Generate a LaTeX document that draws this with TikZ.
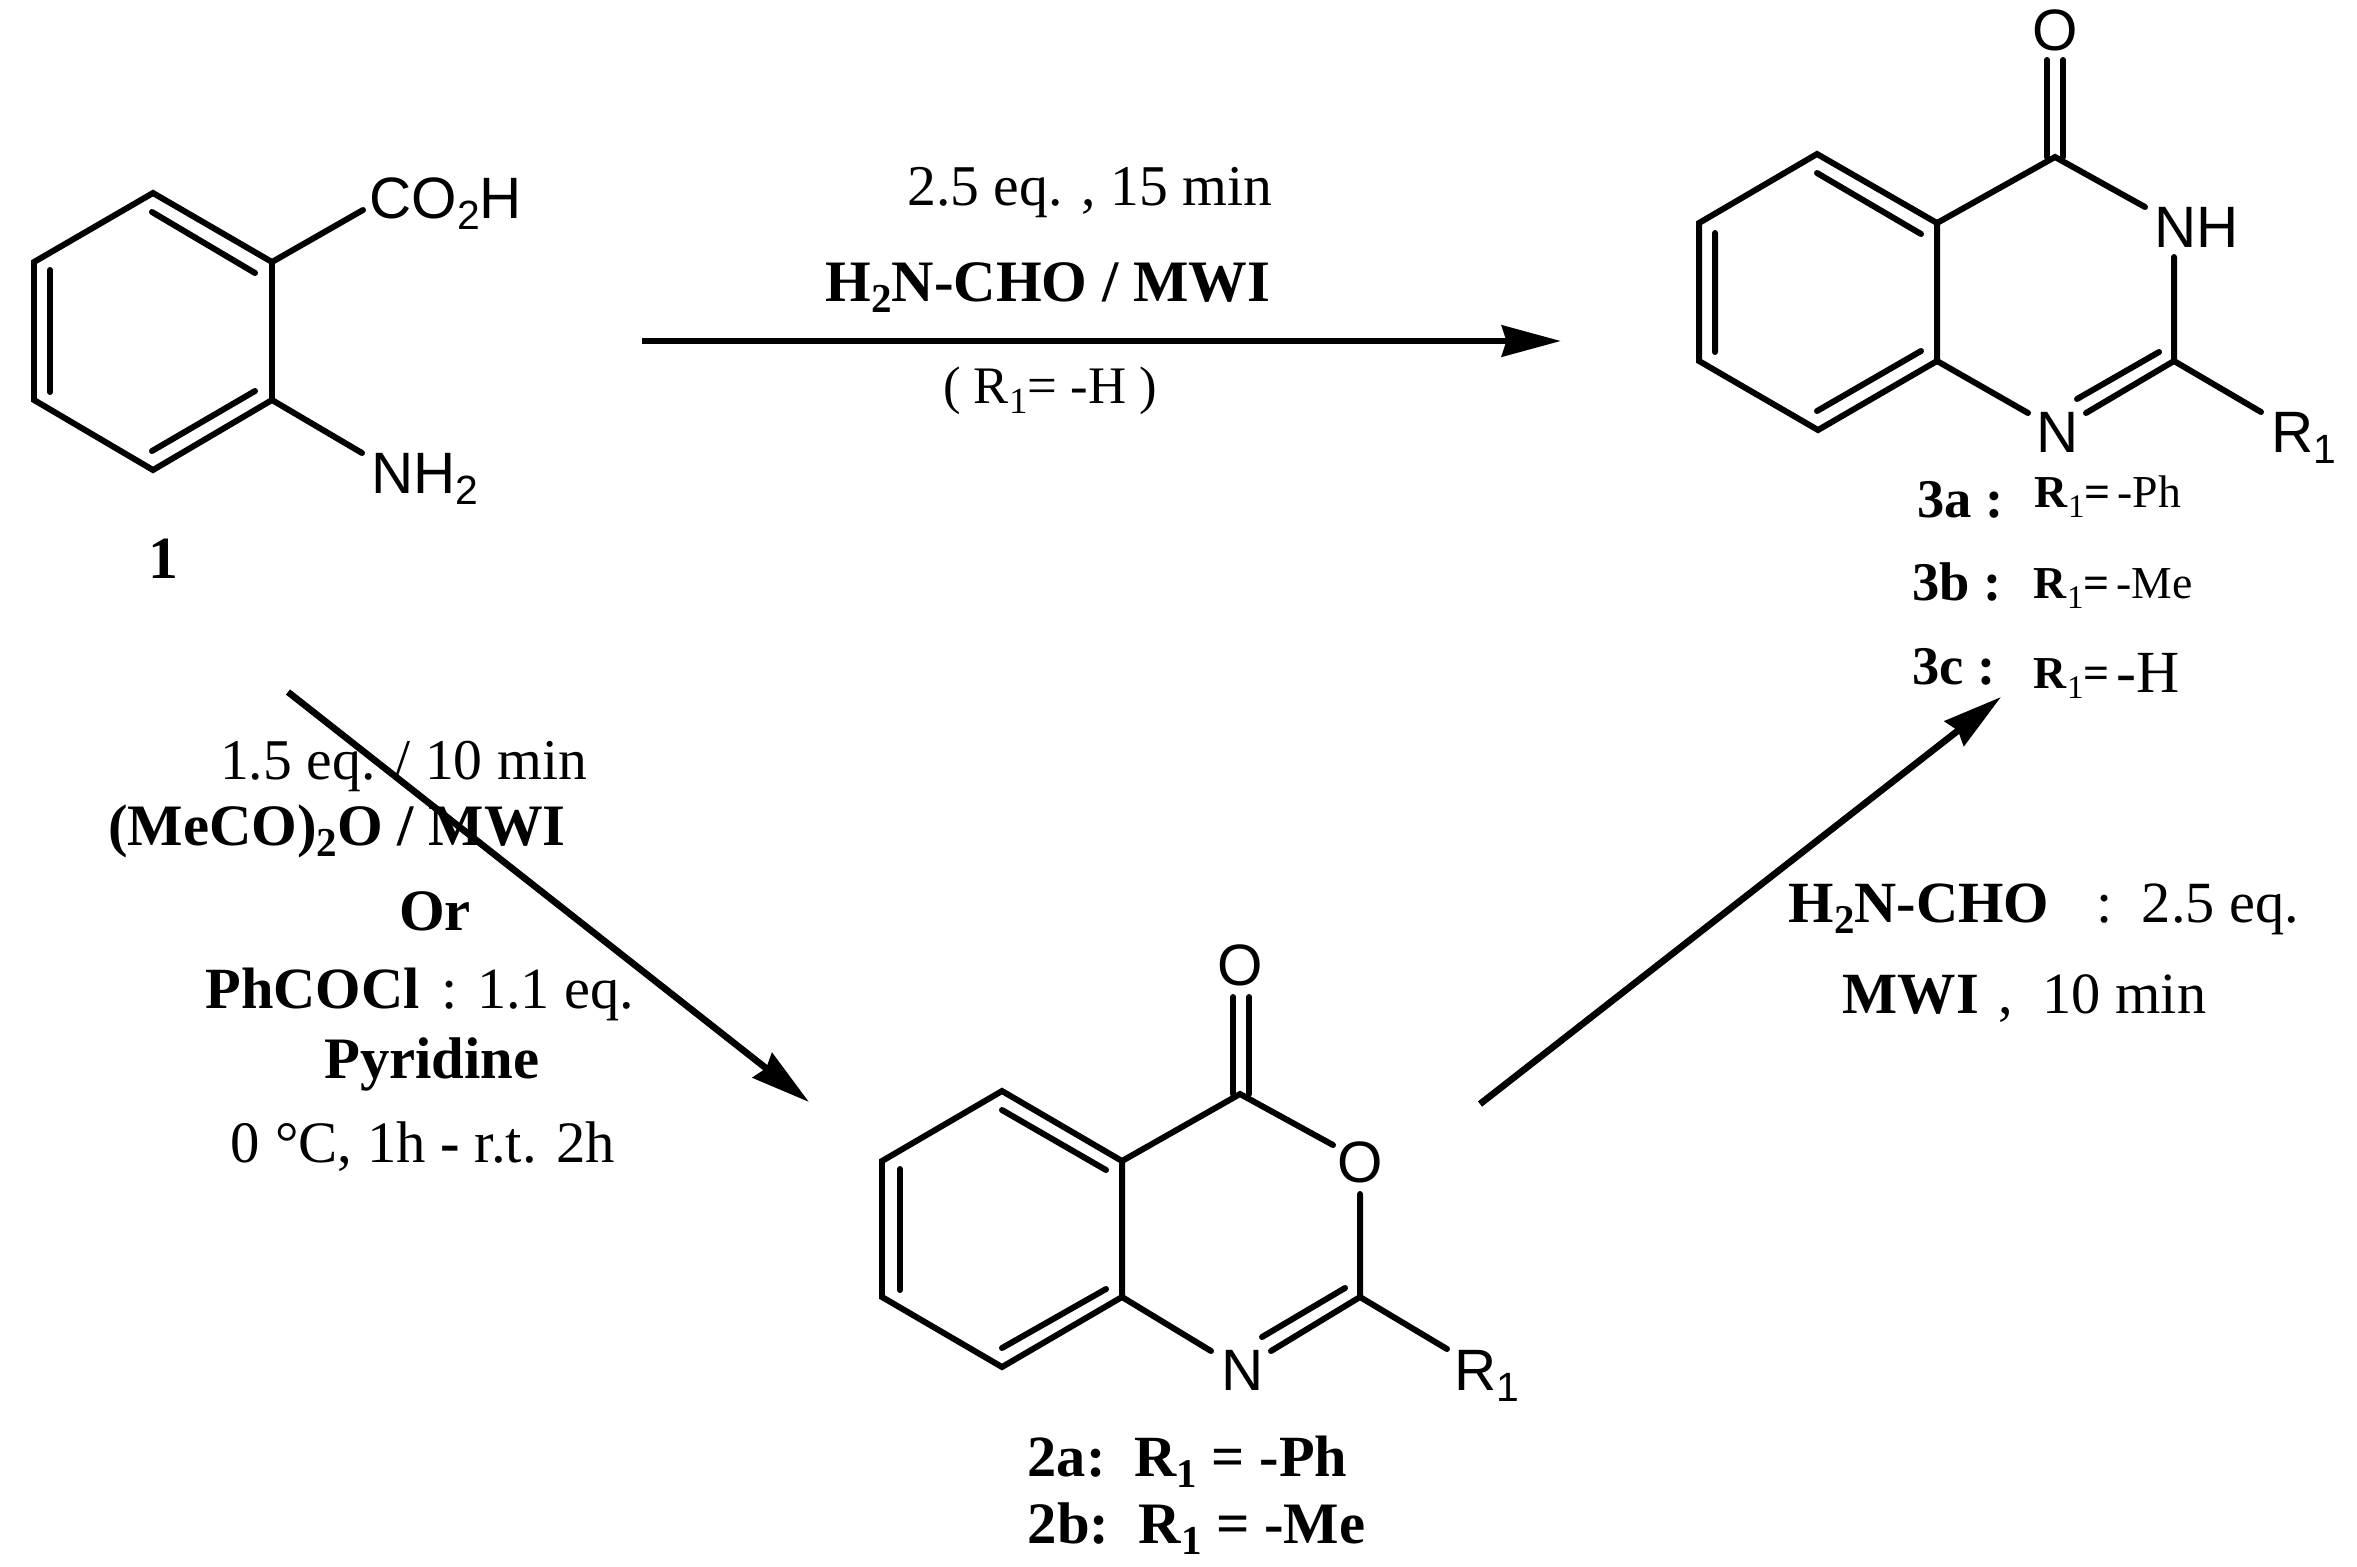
\documentclass[tikz,border=0pt]{standalone}
\usepackage{fontspec}
\setmainfont{Liberation Serif}
\setsansfont{Liberation Sans}
\usetikzlibrary{arrows.meta}
\newcommand{\lowsub}[1]{\raisebox{-0.2em}{\scalebox{0.7}{#1}}}
\newcommand{\rone}{\textbf{R}\raisebox{-0.22em}{\scalebox{0.72}{1}}\textbf{=}\hspace{0.15em}}
\tikzset{
  bond/.style={line width=1.7pt,line cap=round,line join=miter},
  reaction/.style={line width=1.9pt,-{Stealth[length=16.8pt,width=8.8pt,inset=1.3pt]}},
  atom/.style={inner sep=0pt,anchor=base west,font=\fontsize{16.6}{20}\selectfont\sffamily},
  reagent/.style={inner sep=0pt,anchor=base,font=\fontsize{16.4}{20}\selectfont},
  reagentb/.style={inner sep=0pt,anchor=base,font=\fontsize{16.7}{20}\selectfont\bfseries},
  compound/.style={inner sep=0pt,anchor=base west,font=\fontsize{15.5}{20}\selectfont\bfseries},
  rgroup/.style={inner sep=0pt,anchor=base west,font=\fontsize{13}{16}\selectfont}
}
\begin{document}
\begin{tikzpicture}[x=0.01cm,y=-0.01cm]
\path[use as bounding box,fill=white] (0,0) rectangle (2357,1566);

% anthranilic acid
\coordinate (a1) at (153,193);
\coordinate (a2) at (272,262);
\coordinate (a3) at (272,400);
\coordinate (a4) at (153,470);
\coordinate (a5) at (34,400);
\coordinate (a6) at (34,262);
\coordinate (a1i) at (152,212);
\coordinate (a2i) at (255,273);
\coordinate (a3i) at (255,391);
\coordinate (a4i) at (152,451);
\coordinate (a5i) at (50,392);
\coordinate (a6i) at (50,270);
\coordinate (acooh) at (363,210);
\coordinate (anh) at (362,453);
\draw[bond] (a1)--(a2)--(a3)--(a4)--(a5)--(a6)--cycle;
\draw[bond] (a1i)--(a2i) (a3i)--(a4i) (a5i)--(a6i);
\draw[bond] (a2)--(acooh) (a3)--(anh);
\node[atom] (cooh) at (369,218) {CO\lowsub{2}H};
\node[atom] (nh2) at (370.5,493) {NH\lowsub{2}};
\node[compound,anchor=base] (cpd1) at (163,578) {\fontsize{17}{20}\selectfont 1};

% quinazolinone
\coordinate (q1) at (1817,154);
\coordinate (q2) at (1937,223);
\coordinate (q3) at (1937,361);
\coordinate (q4) at (1818,430);
\coordinate (q5) at (1699,361);
\coordinate (q6) at (1699,223);
\coordinate (q1i) at (1817,173);
\coordinate (q2i) at (1921,234);
\coordinate (q3i) at (1921,351);
\coordinate (q4i) at (1817,411);
\coordinate (q5i) at (1715,352);
\coordinate (q6i) at (1715,233);
\coordinate (qc) at (2055,157);
\coordinate (qo1) at (2047,60);
\coordinate (qo2) at (2063,60);
\coordinate (qc1) at (2047,157);
\coordinate (qc2) at (2063,157);
\coordinate (qnh) at (2145,207);
\coordinate (qd) at (2174,257);
\coordinate (qe) at (2174,361);
\coordinate (qr) at (2261,412);
\coordinate (qn1) at (2086,413);
\coordinate (qn2) at (2077,399);
\coordinate (qei) at (2159,352);
\coordinate (qn3) at (2028,413);
\draw[bond] (q1)--(q2)--(q3)--(q4)--(q5)--(q6)--cycle;
\draw[bond] (q1i)--(q2i) (q3i)--(q4i) (q5i)--(q6i);
\draw[bond] (q2)--(qc)--(qnh) (qd)--(qe)--(qn1) (qei)--(qn2) (qe)--(qr) (q3)--(qn3);
\draw[bond] (qo1)--(qc1) (qo2)--(qc2);
\node[atom,anchor=base] (qoxy) at (2055,50) {O};
\node[atom] (qnhl) at (2153.5,247) {NH};
\node[atom] (qnl) at (2035.5,452) {N};
\node[atom] (qrl) at (2271,452) {R\lowsub{1}};
\node[compound] (c3a) at (1917,517) {3a :};
\node[rgroup] (r3a) at (2034,507) {\rone-Ph};
\node[compound] (c3b) at (1912,600) {3b :};
\node[rgroup] (r3b) at (2033,598) {\rone-Me};
\node[compound] (c3c) at (1912,684) {3c :};
\node[rgroup] (r3c) at (2033,688) {\rone\raisebox{-1.4pt}{\fontsize{17}{18}\selectfont -H}};

% benzoxazinone
\coordinate (b1) at (1002,1091);
\coordinate (b2) at (1122,1161);
\coordinate (b3) at (1122,1297);
\coordinate (b4) at (1002,1367);
\coordinate (b5) at (882,1297);
\coordinate (b6) at (882,1161);
\coordinate (b1i) at (1002,1110);
\coordinate (b2i) at (1106,1170);
\coordinate (b3i) at (1106,1289);
\coordinate (b4i) at (1002,1348);
\coordinate (b5i) at (900,1290);
\coordinate (b6i) at (900,1169);
\coordinate (bc) at (1240,1094);
\coordinate (bo1) at (1233,997);
\coordinate (bo2) at (1249,997);
\coordinate (bc1) at (1233,1094);
\coordinate (bc2) at (1249,1094);
\coordinate (bor) at (1333,1145);
\coordinate (bd) at (1360,1194);
\coordinate (be) at (1360,1297);
\coordinate (br) at (1447,1349);
\coordinate (bn1) at (1271,1351);
\coordinate (bn2) at (1262,1337);
\coordinate (bei) at (1345,1288);
\coordinate (bn3) at (1211,1351);
\draw[bond] (b1)--(b2)--(b3)--(b4)--(b5)--(b6)--cycle;
\draw[bond] (b1i)--(b2i) (b3i)--(b4i) (b5i)--(b6i);
\draw[bond] (b2)--(bc)--(bor) (bd)--(be)--(bn1) (bei)--(bn2) (be)--(br) (b3)--(bn3);
\draw[bond] (bo1)--(bc1) (bo2)--(bc2);
\node[atom,anchor=base] (boxy) at (1240,985) {O};
\node[atom,anchor=base] (boxr) at (1360,1182) {O};
\node[atom] (bnl) at (1221,1390) {N};
\node[atom] (brl) at (1454,1390) {R\lowsub{1}};
\node[compound] (c2a) at (1027,1476) {\fontsize{16.6}{20}\selectfont 2a:\ \ R\lowsub{1} = -Ph};
\node[compound] (c2b) at (1027,1543) {\fontsize{16.7}{20}\selectfont 2b:\ \ R\lowsub{1} = -Me};

% top arrow
\coordinate (top1) at (642,341);
\coordinate (top2) at (1561,341);
\draw[reaction] (top1)--(top2);
\node[reagent] (t1) at (1090,205) {2.5 eq. , 15 min};
\node[reagentb] (t2) at (1048,301) {H\lowsub{2}N-CHO / MWI};
\node[reagent,font=\fontsize{15}{16}\selectfont] (t3) at (1050,403) {( R\lowsub{1}= -H )};

% left arrow
\coordinate (left1) at (288,692);
\coordinate (left2) at (809,1102);
\draw[reaction] (left1)--(left2);
\node[reagent] (l1) at (403.5,779) {1.5 eq. / 10 min};
\node[reagentb] (l2) at (337,845) {(MeCO)\lowsub{2}O / MWI};
\node[reagentb] (l3) at (435,930) {Or};
\node[reagent,font=\fontsize{16.6}{20}\selectfont] (l4) at (420,1008) {\textbf{PhCOCl}\hspace{2pt} : 1.1 eq.};
\node[reagentb] (l5) at (432,1078) {Pyridine};
\node[reagent,font=\fontsize{16.7}{20}\selectfont] (l6) at (423,1162) {0 °C, 1h \textbf{-} r.t. 2h};

% right arrow
\coordinate (right1) at (1480,1104);
\coordinate (right2) at (2001,697);
\draw[reaction] (right1)--(right2);
\node[reagent,anchor=base west,font=\fontsize{16.6}{20}\selectfont] (r1) at (1788,922) {\textbf{H\lowsub{2}N-CHO}\hspace{1pt}\ \ \ :\ \ 2.5 eq.};
\node[reagent,anchor=base west,font=\fontsize{16.6}{20}\selectfont] (r2) at (1842,1013) {\textbf{MWI}\hspace{1.5pt} ,\ \ 10 min};
\end{tikzpicture}
\end{document}
